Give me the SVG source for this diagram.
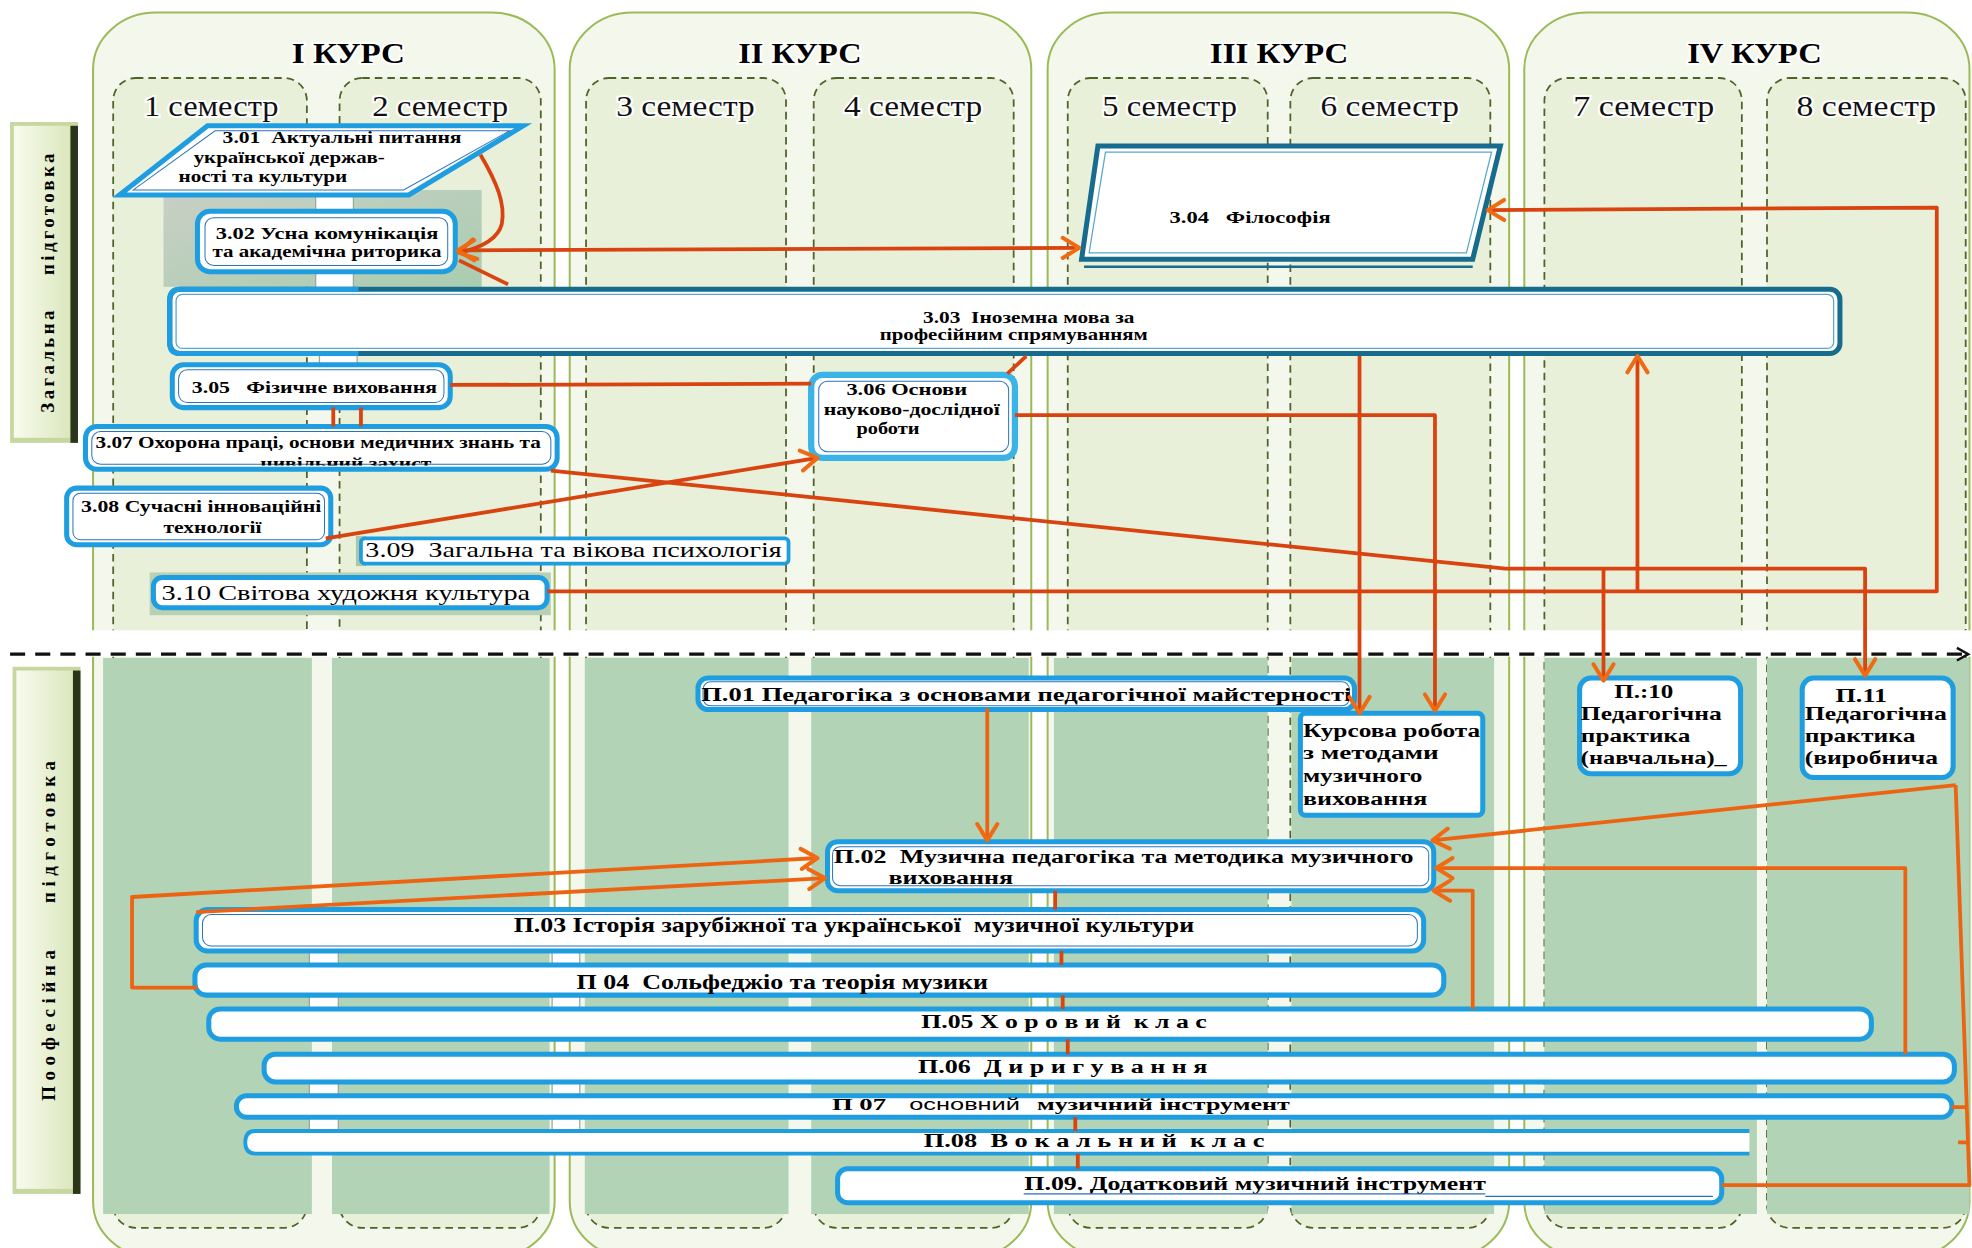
<svg xmlns="http://www.w3.org/2000/svg" width="1972" height="1248" viewBox="0 0 1972 1248">
<defs>
<style>
.course{fill:#f4f7ec;stroke:#9bbb59;stroke-width:1.6}
.sem{fill:#e9f0da;stroke:#4f6228;stroke-width:1.4;stroke-dasharray:6 4}
.grn{fill:#b2d3b6}
.nb{fill:#fff;stroke:#1e9de0;stroke-width:4}
.ni{fill:none;stroke:#2b73b8;stroke-width:0.8}
.nt{fill:#fff;stroke:#176b8d;stroke-width:4}
.nti{fill:none;stroke:#5aa8c8;stroke-width:1}
.t{font-family:"Liberation Serif","Times New Roman",serif;font-weight:bold;fill:#000}
.tn{font-family:"Liberation Serif","Times New Roman",serif;font-weight:normal;fill:#000}
.ts{font-family:"Liberation Sans",Arial,sans-serif;font-weight:normal;fill:#000}
.ct{font-family:"Liberation Serif","Times New Roman",serif;font-weight:bold;font-size:23.5px;text-anchor:middle;fill:#000;stroke:#fff;stroke-width:3;paint-order:stroke}
.st{font-family:"Liberation Serif","Times New Roman",serif;font-size:23px;text-anchor:middle;fill:#111;stroke:#fff;stroke-width:3;paint-order:stroke}
.m{text-anchor:middle}
.c{fill:none;stroke:#d8430f;stroke-width:3;stroke-linejoin:round}
.c2{fill:none;stroke:#ec6412;stroke-width:3;stroke-linejoin:round}
.rung{fill:#fff;stroke:#9aa89a;stroke-width:1}
</style>
<marker id="ah" viewBox="0 0 20 20" refX="17" refY="10" markerWidth="20" markerHeight="20" markerUnits="userSpaceOnUse" orient="auto-start-reverse">
<path d="M4,2 L17,10 L4,18" fill="none" stroke="#f06a14" stroke-width="3.2" stroke-linecap="round" stroke-linejoin="round"/>
</marker>
<linearGradient id="lbl" x1="0" y1="0" x2="1" y2="0">
<stop offset="0" stop-color="#f8fbee"/><stop offset="1" stop-color="#dbe7bd"/>
</linearGradient>
<linearGradient id="gg" x1="0" y1="0" x2="1" y2="1">
<stop offset="0" stop-color="#c9cfc5"/><stop offset="1" stop-color="#a9cdb0"/>
</linearGradient>
<clipPath id="clip307"><rect x="68" y="339" width="375" height="31"/></clipPath>
</defs>
<rect x="0" y="0" width="1972" height="1248" fill="#fff"/>
<g transform="scale(1.25765 1.25806)">
<g id="background">
<rect class="course" x="74" y="10" width="367" height="990" rx="50" ry="45"/>
<rect class="course" x="453" y="10" width="367" height="990" rx="50" ry="45"/>
<rect class="course" x="833" y="10" width="367" height="990" rx="50" ry="45"/>
<rect class="course" x="1212" y="10" width="354" height="990" rx="50" ry="45"/>
<rect class="sem" x="90" y="62" width="154" height="914" rx="18"/>
<rect class="sem" x="270" y="62" width="160" height="914" rx="18"/>
<rect class="sem" x="466" y="62" width="159" height="914" rx="18"/>
<rect class="sem" x="647" y="62" width="159" height="914" rx="18"/>
<rect class="sem" x="849" y="62" width="159" height="914" rx="18"/>
<rect class="sem" x="1026" y="62" width="159" height="914" rx="18"/>
<rect class="sem" x="1228" y="62" width="157" height="914" rx="18"/>
<rect class="sem" x="1405" y="62" width="158" height="914" rx="18"/>
<rect x="0" y="501" width="1568" height="21" fill="#fff"/>
<rect class="grn" x="82" y="523" width="166" height="442"/>
<rect class="grn" x="264" y="523" width="173" height="442"/>
<rect class="grn" x="465" y="523" width="162" height="442"/>
<rect class="grn" x="645" y="523" width="173" height="442"/>
<rect class="grn" x="838" y="523" width="170" height="442"/>
<rect class="grn" x="1027" y="523" width="161" height="442"/>
<rect class="grn" x="1228" y="523" width="169" height="442"/>
<rect class="grn" x="1405" y="523" width="161" height="442"/>
<rect x="130" y="151" width="253" height="77" fill="url(#gg)"/>
<rect x="119" y="455" width="319" height="34" fill="#b9d0b5"/>
<rect x="283" y="426" width="8" height="24" fill="#a9c8a9"/>
<rect class="rung" x="251" y="155" width="30" height="14"/>
<rect class="rung" x="251" y="216" width="30" height="14"/>
<rect class="rung" x="254" y="281" width="30" height="10"/>
<rect class="rung" x="246" y="756" width="23" height="11"/>
<rect class="rung" x="439" y="756" width="22" height="11"/>
<rect class="rung" x="246" y="791" width="23" height="11"/>
<rect class="rung" x="439" y="791" width="22" height="11"/>
<rect class="rung" x="246" y="860" width="23" height="11"/>
<rect class="rung" x="439" y="860" width="22" height="11"/>
<rect class="rung" x="246" y="888" width="23" height="11"/>
<rect class="rung" x="439" y="888" width="22" height="11"/>
</g>
<g id="course-labels">
<text class="ct" x="277" y="50" textLength="90" lengthAdjust="spacingAndGlyphs">I КУРС</text>
<text class="ct" x="636" y="50" textLength="98" lengthAdjust="spacingAndGlyphs">II КУРС</text>
<text class="ct" x="1017" y="50" textLength="110" lengthAdjust="spacingAndGlyphs">III КУРС</text>
<text class="ct" x="1395" y="50" textLength="107" lengthAdjust="spacingAndGlyphs">IV КУРС</text>
<text class="st" x="168" y="92" textLength="107" lengthAdjust="spacingAndGlyphs">1 семестр</text>
<text class="st" x="350" y="92" textLength="108" lengthAdjust="spacingAndGlyphs">2 семестр</text>
<text class="st" x="545" y="92" textLength="110" lengthAdjust="spacingAndGlyphs">3 семестр</text>
<text class="st" x="726" y="92" textLength="110" lengthAdjust="spacingAndGlyphs">4 семестр</text>
<text class="st" x="930" y="92" textLength="107" lengthAdjust="spacingAndGlyphs">5 семестр</text>
<text class="st" x="1105" y="92" textLength="110" lengthAdjust="spacingAndGlyphs">6 семестр</text>
<text class="st" x="1307" y="92" textLength="112" lengthAdjust="spacingAndGlyphs">7 семестр</text>
<text class="st" x="1484" y="92" textLength="111" lengthAdjust="spacingAndGlyphs">8 семестр</text>
</g>
<g id="side-general">
<rect x="8" y="97" width="54" height="255" fill="#c6d79f"/>
<rect x="11" y="100" width="45" height="248" fill="url(#lbl)"/>
<rect x="56" y="100" width="6" height="252" fill="#2a3519"/>
<text class="t" font-size="15" x="43" y="225" transform="rotate(-90 43 225)" text-anchor="middle" textLength="206" lengthAdjust="spacing">Загальна&#160;&#160;&#160;&#160;підготовка</text>
</g>
<g id="side-prof">
<rect x="10" y="530" width="54" height="419" fill="#c6d79f"/>
<rect x="13" y="533" width="45" height="412" fill="url(#lbl)"/>
<rect x="58" y="533" width="6" height="416" fill="#2a3519"/>
<text class="t" font-size="15" x="44" y="740" transform="rotate(-90 44 740)" text-anchor="middle" textLength="270" lengthAdjust="spacing">Поофесійна&#160;&#160;&#160;&#160;підготовка</text>
</g>
<g id="separator">
<line x1="8" y1="520" x2="1560" y2="520" stroke="#111" stroke-width="2.6" stroke-dasharray="12 8"/>
<path d="M1556,515 L1565,520 L1556,525" fill="none" stroke="#111" stroke-width="2"/>
</g>
<g id="n301">
<polygon class="nb" points="165,100 416,100 325,155 95,155"/>
<polygon class="ni" points="171,104 405,104 321,151 106,151"/>
<text class="t m" font-size="13.5" x="272" y="113.5" textLength="190" lengthAdjust="spacingAndGlyphs">3.01&#160;&#160;Актуальні питання</text>
<text class="t m" font-size="13.5" x="230" y="129.5" textLength="152" lengthAdjust="spacingAndGlyphs">української держав-</text>
<text class="t m" font-size="13.5" x="209" y="144.5" textLength="134" lengthAdjust="spacingAndGlyphs">ності та культури</text>
</g>
<g id="n302">
<rect class="nb" x="157" y="168" width="205" height="48" rx="10"/>
<rect class="ni" x="163" y="173" width="193" height="38" rx="7"/>
<text class="t m" font-size="13.5" x="260" y="190" textLength="177" lengthAdjust="spacingAndGlyphs">3.02 Усна комунікація</text>
<text class="t m" font-size="13.5" x="260" y="204.5" textLength="182" lengthAdjust="spacingAndGlyphs">та академічна риторика</text>
</g>
<g id="n303">
<rect class="nt" x="135" y="230" width="1328" height="51" rx="8"/>
<rect class="nti" x="140" y="234" width="1318" height="43" rx="5"/>
<path d="M285,230 L143,230 Q135,230 135,238 L135,273 Q135,281 143,281 L285,281" fill="none" stroke="#1e9de0" stroke-width="4"/>
<text class="t m" font-size="13.5" x="818" y="257" textLength="168" lengthAdjust="spacingAndGlyphs">3.03&#160;&#160;Іноземна мова за</text>
<text class="t m" font-size="13.5" x="806" y="270" textLength="213" lengthAdjust="spacingAndGlyphs">професійним спрямуванням</text>
</g>
<g id="n304">
<polygon class="nt" points="873,116 1193,116 1171,206 860,206"/>
<polygon class="nti" points="879,121 1186,121 1166,201 866,201"/>
<line x1="862" y1="212" x2="1171" y2="212" stroke="#176b8d" stroke-width="2"/>
<text class="t m" font-size="13.5" x="994" y="177.5" textLength="128" lengthAdjust="spacingAndGlyphs">3.04&#160;&#160;&#160;Філософія</text>
</g>
<g id="n305">
<rect class="nb" x="137" y="290" width="221" height="34" rx="9"/>
<rect class="ni" x="142" y="294" width="211" height="26" rx="7"/>
<text class="t m" font-size="14" x="250" y="312" textLength="195" lengthAdjust="spacingAndGlyphs">3.05&#160;&#160;&#160;Фізичне виховання</text>
</g>
<g id="n306">
<rect class="nb" x="645" y="298" width="162" height="66" rx="9" style="stroke:#3ab4e6;stroke-width:5"/>
<rect class="ni" x="651" y="303" width="151" height="56" rx="7"/>
<text class="t m" font-size="13.5" x="721" y="314" textLength="96" lengthAdjust="spacingAndGlyphs">3.06 Основи</text>
<text class="t m" font-size="13.5" x="725" y="329.5" textLength="140" lengthAdjust="spacingAndGlyphs">науково-дослідної</text>
<text class="t m" font-size="13.5" x="706" y="345" textLength="50" lengthAdjust="spacingAndGlyphs">роботи</text>
</g>
<g id="n307">
<rect class="nb" x="68" y="339" width="375" height="34" rx="9"/>
<rect class="ni" x="73" y="343" width="365" height="26" rx="7"/>
<text class="t m" font-size="14" x="253" y="356.5" textLength="354" lengthAdjust="spacingAndGlyphs">3.07 Охорона праці, основи медичних знань та</text>
<text class="t m" font-size="14" x="275" y="373" textLength="136" lengthAdjust="spacingAndGlyphs" clip-path="url(#clip307)">цивільний захист</text>
</g>
<g id="n308">
<rect class="nb" x="53" y="388" width="210" height="45" rx="8"/>
<rect class="ni" x="58" y="392" width="200" height="37" rx="6"/>
<text class="t m" font-size="14" x="160" y="407" textLength="191" lengthAdjust="spacingAndGlyphs">3.08 Сучасні інноваційні</text>
<text class="t m" font-size="14" x="169" y="424" textLength="78" lengthAdjust="spacingAndGlyphs">технології</text>
</g>
<g id="n309">
<rect class="nb" x="287" y="428" width="340" height="20" rx="3" style="stroke-width:3"/>
<text class="tn m" font-size="16" x="456" y="443" textLength="331" lengthAdjust="spacingAndGlyphs">3.09&#160;&#160;Загальна та вікова психологія</text>
</g>
<g id="n310">
<rect class="nb" x="122" y="459" width="313" height="24" rx="7"/>
<text class="tn m" font-size="17.5" x="275" y="477" textLength="293" lengthAdjust="spacingAndGlyphs">3.10 Світова художня культура</text>
</g>
<g id="p01">
<rect class="nb" x="555" y="539" width="522" height="25" rx="8"/>
<rect class="ni" x="559" y="542" width="514" height="19" rx="6"/>
<text class="t m" font-size="15.5" x="816" y="557" textLength="517" lengthAdjust="spacingAndGlyphs">П.01 Педагогіка з основами педагогічної майстерності</text>
</g>
<g id="kursova">
<rect class="nb" x="1034" y="567" width="145" height="81" rx="4"/>
<text class="t" font-size="15" x="1036" y="586" textLength="141" lengthAdjust="spacingAndGlyphs">Курсова робота</text>
<text class="t" font-size="15" x="1036" y="603.5" textLength="108" lengthAdjust="spacingAndGlyphs">з методами</text>
<text class="t" font-size="15" x="1036" y="621.5" textLength="95" lengthAdjust="spacingAndGlyphs">музичного</text>
<text class="t" font-size="15" x="1036" y="640" textLength="99" lengthAdjust="spacingAndGlyphs">виховання</text>
</g>
<g id="p10">
<rect class="nb" x="1256" y="539" width="128" height="76" rx="9"/>
<text class="t m" font-size="14.5" x="1307" y="555" textLength="47" lengthAdjust="spacingAndGlyphs">П.:10</text>
<text class="t" font-size="14.5" x="1257" y="572" textLength="112" lengthAdjust="spacingAndGlyphs">Педагогічна</text>
<text class="t" font-size="14.5" x="1257" y="590" textLength="87" lengthAdjust="spacingAndGlyphs">практика</text>
<text class="t" font-size="14.5" x="1257" y="607" textLength="116" lengthAdjust="spacingAndGlyphs">(навчальна)_</text>
</g>
<g id="p11">
<rect class="nb" x="1433" y="539" width="120" height="79" rx="9"/>
<text class="t m" font-size="14.5" x="1480" y="558" textLength="41" lengthAdjust="spacingAndGlyphs">П.11</text>
<text class="t" font-size="14.5" x="1435" y="572" textLength="113" lengthAdjust="spacingAndGlyphs">Педагогічна</text>
<text class="t" font-size="14.5" x="1435" y="590" textLength="88" lengthAdjust="spacingAndGlyphs">практика</text>
<text class="t" font-size="14.5" x="1435" y="607" textLength="106" lengthAdjust="spacingAndGlyphs">(виробнича</text>
</g>
<g id="p02">
<rect class="nb" x="658" y="669" width="482" height="39" rx="8"/>
<rect class="ni" x="662" y="673" width="474" height="31" rx="6"/>
<text class="t" font-size="15" x="663" y="686" textLength="461" lengthAdjust="spacingAndGlyphs">П.02&#160;&#160;Музична педагогіка та методика музичного</text>
<text class="t m" font-size="15" x="756" y="703" textLength="99" lengthAdjust="spacingAndGlyphs">виховання</text>
</g>
<g id="p03">
<rect class="nb" x="156" y="723" width="976" height="33" rx="9"/>
<rect class="ni" x="161" y="727" width="966" height="25" rx="7"/>
<text class="t m" font-size="16" x="679" y="741" textLength="541" lengthAdjust="spacingAndGlyphs">П.03 Історія зарубіжної та української&#160; музичної культури</text>
</g>
<g id="p04">
<rect class="nb" x="155" y="767" width="993" height="24" rx="9"/>
<text class="t m" font-size="16" x="622" y="786" textLength="327" lengthAdjust="spacingAndGlyphs">П 04&#160;&#160;Сольфеджіо та теорія музики</text>
</g>
<g id="p05">
<rect class="nb" x="166" y="802" width="1322" height="24" rx="9"/>
<text class="t m" font-size="15" x="846" y="817" textLength="227" lengthAdjust="spacingAndGlyphs">П.05 Х о р о в и й&#160; к л а с</text>
</g>
<g id="p06">
<rect class="nb" x="210" y="838" width="1344" height="22" rx="9"/>
<text class="t m" font-size="15" x="845" y="853" textLength="230" lengthAdjust="spacingAndGlyphs">П.06&#160; Д и р и г у в а н н я</text>
</g>
<g id="p07">
<rect class="nb" x="188" y="871" width="1364" height="17" rx="8"/>
<text class="t m" font-size="14" x="683" y="882.5" textLength="43" lengthAdjust="spacingAndGlyphs">П 07</text>
<text class="ts m" font-size="13" x="767" y="882.5" textLength="88" lengthAdjust="spacingAndGlyphs">основний</text>
<text class="t m" font-size="14" x="925" y="882.5" textLength="201" lengthAdjust="spacingAndGlyphs">музичний інструмент</text>
</g>
<g id="p08">
<path d="M1391,899 L203,899 Q195,899 195,908 Q195,917 203,917 L1391,917" fill="#fff" stroke="#1e9de0" stroke-width="3"/>
<text class="t m" font-size="15" x="870" y="912" textLength="271" lengthAdjust="spacingAndGlyphs">П.08&#160; В о к а л ь н и й&#160; к л а с</text>
</g>
<g id="p09">
<rect class="nb" x="666" y="929" width="703" height="27" rx="8"/>
<text class="t m" font-size="15" x="998" y="946" textLength="367" lengthAdjust="spacingAndGlyphs">П.09. Додатковий музичний інструмент</text>
<line x1="814" y1="949" x2="1181" y2="949" stroke="#2a6fb8" stroke-width="1"/>
<line x1="1181" y1="951" x2="1362" y2="951" stroke="#2a6fb8" stroke-width="1"/>
</g>
<g id="connectors">
<path class="c" d="M382,123 C395,145 402,162 399,178 C396,190 382,197 365,201" marker-end="url(#ah)"/>
<path class="c" d="M364,199 L858,197" marker-start="url(#ah)" marker-end="url(#ah)"/>
<path class="c" d="M365,207 L404,226"/>
<path class="c" d="M358,306 L645,305"/>
<path class="c" d="M801,297 L816,283"/>
<path class="c" d="M807,330 L1141,330 L1141,565" marker-end="url(#ah)"/>
<path class="c" d="M1081,283 L1081,567" marker-end="url(#ah)"/>
<path class="c" d="M435,470 L1540,470 L1540,165 L1183,167" marker-end="url(#ah)"/>
<path class="c" d="M438,374 L1197,452 L1483,452 L1483,537" marker-end="url(#ah)"/>
<path class="c" d="M1275,452 L1275,541" marker-end="url(#ah)"/>
<path class="c" d="M259,428 L650,364" marker-end="url(#ah)"/>
<path class="c" d="M1302,470 L1302,283" marker-end="url(#ah)"/>
<path class="c" d="M265,324 L265,339 M287,324 L287,339"/>
<path class="c2" d="M785,563 L785,668" marker-end="url(#ah)"/>
<path class="c2" d="M157,785 L105,785 L105,713 L650,682" marker-end="url(#ah)"/>
<path class="c2" d="M156,725 L656,698" marker-end="url(#ah)"/>
<path class="c2" d="M1555,624 L1139,668" marker-end="url(#ah)"/>
<path class="c2" d="M1555,624 L1566,942 L1369,942"/>
<path class="c2" d="M1552,880 L1563,880 M1557,908 L1566,908"/>
<path class="c2" d="M1515,838 L1515,690 L1142,690" marker-end="url(#ah)"/>
<path class="c2" d="M1171,802 L1171,708 L1140,708" marker-end="url(#ah)"/>
<path class="c" d="M839,708 L839,723 M844,756 L844,767 M845,791 L845,802 M849,826 L849,838 M855,888 L855,899 M857,917 L857,929"/>
</g>
</g>
</svg>
